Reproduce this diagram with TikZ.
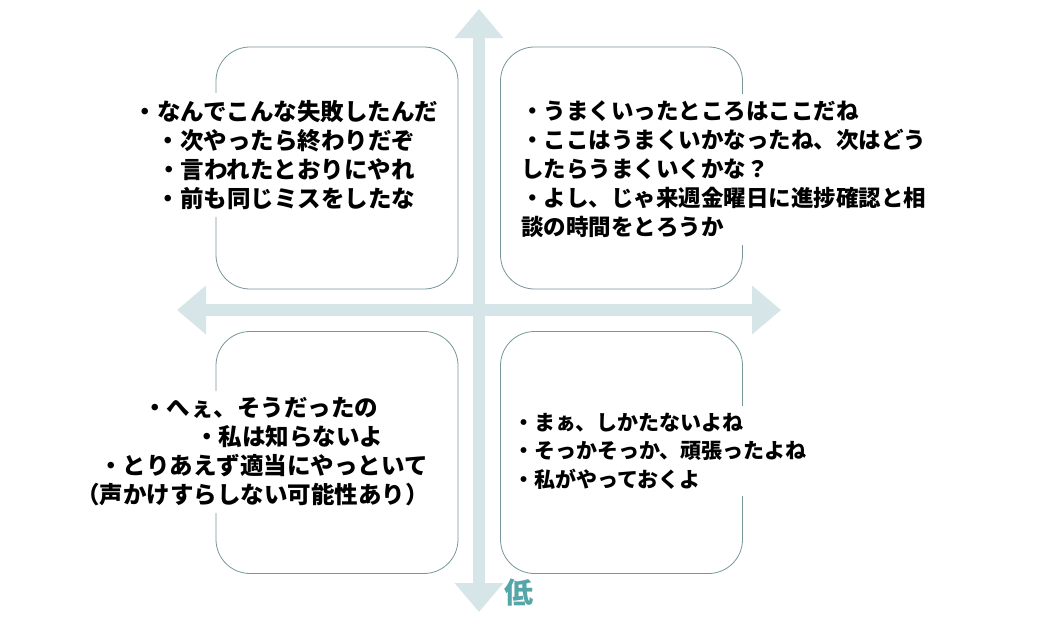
\documentclass[tikz,border=0pt]{standalone}
\usepackage{fontspec}
\setmainfont{Noto Sans CJK JP}
\usetikzlibrary{arrows.meta}
\definecolor{axisc}{RGB}{213,229,232}
\definecolor{boxc}{RGB}{120,150,156}
\definecolor{lowc}{RGB}{84,166,168}
\begin{document}
\begin{tikzpicture}[x=1pt,y=-1pt,
  quad/.style={draw=boxc, line width=0.8pt, rounded corners=34pt, minimum width=242pt, minimum height=242pt, inner sep=0pt},
  axis/.style={draw=axisc, line width=12pt, {Triangle[length=29pt,width=47pt]}-{Triangle[length=29pt,width=47pt]}},
  txt/.style={fill=white, inner xsep=4pt, inner ysep=7pt, text=black},
  big/.style={font=\bfseries\fontsize{23.5}{29}\selectfont},
]
\useasboundingbox (0,0) rectangle (1039,625);
\fill[white] (0,0) rectangle (1039,625);
% quadrant boxes
\node[quad] (q1) at (337,168) {};
\node[quad] (q2) at (621.5,168) {};
\node[quad] (q3) at (337,452.5) {};
\node[quad] (q4) at (621.5,452.5) {};
% axes
\coordinate (vt) at (479,9);
\coordinate (vb) at (479,612);
\coordinate (hl) at (177,310);
\coordinate (hr) at (781,310);
\draw[axis] (vb) -- (vt);
\draw[axis] (hl) -- (hr);
% texts
\node[txt, big, align=center] (t1) at (286,155)
  {・なんでこんな失敗したんだ\\・次やったら終わりだぞ\\・言われたとおりにやれ\\・前も同じミスをしたな};
\node[txt, font=\bfseries\fontsize{22.5}{29}\selectfont, align=left, anchor=west] (t2) at (517,169)
  {・うまくいったところはここだね\\・ここはうまくいかなったね、次はどう\\したらうまくいくかな？\\・よし、じゃ来週金曜日に進捗確認と相\\談の時間をとろうか};
\node[txt, big, align=left, anchor=west] (t3) at (72,452)
  {\hspace*{67pt}・へぇ、そうだったの\\\hspace*{119pt}・私は知らないよ\\\hspace*{23pt}・とりあえず適当にやっといて\\（声かけすらしない可能性あり）};
\node[txt, font=\bfseries\fontsize{21}{28.5}\selectfont, align=left, anchor=west] (t4) at (509,451)
  {・まぁ、しかたないよね\\・そっかそっか、頑張ったよね\\・私がやっておくよ};
\node[font=\bfseries\fontsize{29}{29}\selectfont, text=lowc, inner sep=0pt] (low) at (519,593) {低};
\end{tikzpicture}
\end{document}
